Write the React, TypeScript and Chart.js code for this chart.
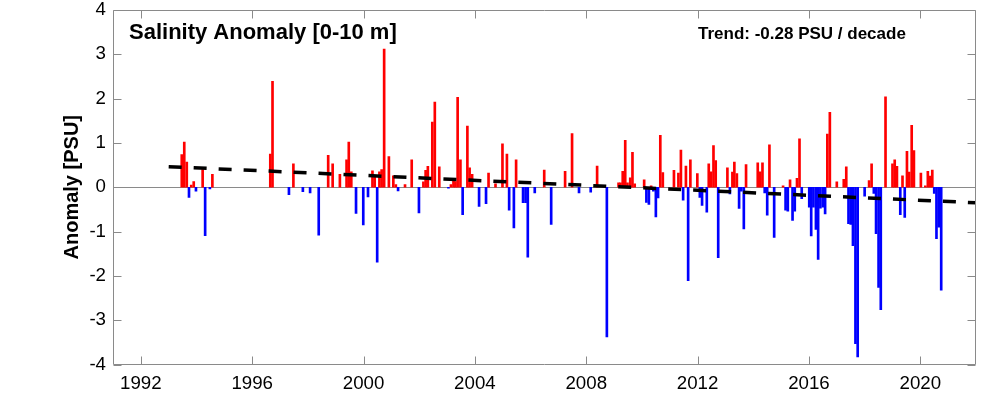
import React, { useEffect, useRef } from "react";
import { Chart, registerables } from "chart.js";

Chart.register(...registerables);

// ---- data (decimal years, PSU) ----
const dates = [
  1993.47, 1993.56, 1993.65, 1993.73, 1993.81, 1993.9, 1993.98, 1994.22, 1994.31, 1994.48, 1994.57,
  1996.65, 1996.73, 1997.32, 1997.48, 1997.82, 1998.08, 1998.39, 1998.73, 1998.89,
  1999.15, 1999.39, 1999.47, 1999.56, 1999.73, 1999.99,
  2000.16, 2000.32, 2000.4, 2000.49, 2000.57, 2000.65, 2000.74, 2000.91,
  2001.07, 2001.16, 2001.24, 2001.49, 2001.73, 2001.99,
  2002.15, 2002.23, 2002.31, 2002.47, 2002.56, 2002.72,
  2003.05, 2003.14, 2003.23, 2003.3, 2003.38, 2003.48, 2003.56, 2003.73, 2003.81, 2003.9,
  2004.15, 2004.4, 2004.49, 2004.74, 2004.99,
  2005.15, 2005.23, 2005.4, 2005.48, 2005.73, 2005.82, 2005.9,
  2006.15, 2006.49, 2006.74, 2007.24, 2007.49, 2007.74,
  2008.16, 2008.39, 2008.74,
  2009.16, 2009.23, 2009.31, 2009.4, 2009.48, 2009.58, 2009.66, 2009.74,
  2010.08, 2010.16, 2010.25, 2010.33, 2010.41, 2010.5, 2010.58, 2010.66, 2010.75,
  2011.15, 2011.31, 2011.4, 2011.48, 2011.58, 2011.66, 2011.74, 2011.99,
  2012.08, 2012.16, 2012.33, 2012.4, 2012.48, 2012.57, 2012.65, 2012.74,
  2013.07, 2013.16, 2013.25, 2013.32, 2013.41, 2013.49, 2013.57, 2013.66, 2013.74,
  2014.16, 2014.25, 2014.33, 2014.41, 2014.5, 2014.58, 2014.75,
  2015.07, 2015.16, 2015.24, 2015.32, 2015.41, 2015.49, 2015.57, 2015.66, 2015.74,
  2016.01, 2016.08, 2016.16, 2016.25, 2016.33, 2016.41, 2016.5, 2016.58, 2016.66, 2016.75,
  2017.0, 2017.25, 2017.34, 2017.42, 2017.5, 2017.58, 2017.67, 2017.75,
  2018.0, 2018.16, 2018.25, 2018.33, 2018.41, 2018.5, 2018.58, 2018.75,
  2019.0, 2019.08, 2019.16, 2019.28, 2019.36, 2019.44, 2019.52, 2019.6, 2019.69, 2019.77,
  2020.02, 2020.18, 2020.27, 2020.35, 2020.43, 2020.5, 2020.58, 2020.66, 2020.75,
];

const anomalies = [
  0.74, 1.02, 0.57, -0.23, 0.05, 0.13, -0.09, 0.4, -1.09, -0.04, 0.29,
  0.75, 2.39, -0.17, 0.53, -0.1, -0.13, -1.08, 0.72, 0.53,
  0.29, 0.62, 1.02, 0.35, -0.59, -0.85,
  -0.22, 0.37, 0.23, -1.69, 0.35, 0.4, 3.12, 0.69,
  0.26, 0.06, -0.08, 0.06, 0.62, -0.58,
  0.12, 0.38, 0.47, 1.47, 1.92, 0.46,
  -0.02, 0.06, 0.17, 0.13, 2.03, 0.62, -0.62, 1.38, 0.44, 0.29,
  -0.43, -0.37, 0.32, 0.08, 0.98,
  0.75, -0.52, -0.92, 0.62, -0.35, -0.35, -1.58,
  -0.13, 0.39, -0.84, 0.36, 1.21, -0.13,
  -0.11, 0.48, -3.38,
  0.1, 0.1, 0.36, 1.06, 0.1, 0.21, 0.79, 0.08,
  0.17, -0.34, -0.39, 0.03, -0.09, -0.67, -0.24, 1.17, 0.33,
  0.38, 0.32, 0.84, -0.29, 0.48, -2.11, 0.62, 0.31,
  -0.23, -0.41, -0.56, 0.53, 0.35, 0.94, 0.6, -1.59,
  0.44, -0.15, 0.34, 0.57, 0.31, -0.48, -0.09, -0.94, 0.51,
  0.55, 0.35, 0.55, -0.13, -0.63, 0.96, -1.13,
  0.03, -0.52, -0.54, 0.17, -0.75, -0.54, 0.2, 1.09, -0.26,
  -0.45, -1.1, -0.45, -0.95, -1.63, -0.47, -0.45, -0.6, 1.2, 1.69,
  0.12, 0.18, 0.46, -0.82, -0.84, -1.32, -3.53, -3.83,
  -0.2, 0.15, 0.53, -0.14, -1.05, -2.26, -2.76, 2.04,
  0.53, 0.62, 0.47, -0.62, 0.26, -0.68, 0.81, 0.34, 1.4, 0.83,
  0.32, 0.03, 0.36, 0.25, 0.39, -0.14, -1.16, -0.9, -2.32,
];

const xTickYears = [1992, 1996, 2000, 2004, 2008, 2012, 2016, 2020];
const yTickValues = [-4, -3, -2, -1, 0, 1, 2, 3, 4];
const trendYears = [1993.0, 2022.0];
const trendValues = [0.465, -0.35];

const titleText = "Salinity Anomaly [0-10 m]";
const trendText = "Trend: -0.28 PSU / decade";
const yAxisTitle = "Anomaly [PSU]";

const FONT = '"Liberation Sans", Arial, Helvetica, sans-serif';
const AXIS_GRAY = "#8a8a8a";
const POS_COLOR = "#ff0000";
const NEG_COLOR = "#0000ff";
const TICK_LEN = 8;

const framePlugin = {
  id: "frame",
  beforeDatasetsDraw(chart: any) {
    const { ctx, chartArea: a, scales } = chart;
    const y0 = Math.round(scales.y.getPixelForValue(0)) + 0.5;
    ctx.save();
    ctx.strokeStyle = AXIS_GRAY;
    ctx.lineWidth = 1;
    ctx.beginPath();
    ctx.moveTo(a.left, y0);
    ctx.lineTo(a.right, y0);
    ctx.stroke();
    ctx.restore();
  },
  afterDatasetsDraw(chart: any) {
    const { ctx, chartArea: a, scales } = chart;
    const L = Math.round(a.left) + 0.5;
    const R = Math.round(a.right) - 0.5;
    const T = Math.round(a.top) + 0.5;
    const B = Math.round(a.bottom) - 0.5;
    ctx.save();
    ctx.strokeStyle = AXIS_GRAY;
    ctx.lineWidth = 1;
    ctx.beginPath();
    ctx.rect(L, T, R - L, B - T);
    for (const yr of xTickYears) {
      const px = Math.round(scales.x.getPixelForValue(yr)) + 0.5;
      ctx.moveTo(px, B);
      ctx.lineTo(px, B - TICK_LEN);
      ctx.moveTo(px, T);
      ctx.lineTo(px, T + TICK_LEN);
    }
    for (const v of yTickValues) {
      const py = Math.round(scales.y.getPixelForValue(v)) + 0.5;
      ctx.moveTo(L, py);
      ctx.lineTo(L + TICK_LEN, py);
      ctx.moveTo(R, py);
      ctx.lineTo(R - TICK_LEN, py);
    }
    ctx.stroke();

    ctx.fillStyle = "#000";
    ctx.textBaseline = "alphabetic";
    ctx.textAlign = "left";
    ctx.font = `bold 22px ${FONT}`;
    ctx.fillText(titleText, a.left + 16, a.top + 29);
    ctx.font = `bold 17px ${FONT}`;
    ctx.fillText(trendText, a.left + 585, a.top + 28.5);
    ctx.restore();
  },
};

export default function App() {
  const canvasRef = useRef<HTMLCanvasElement | null>(null);

  useEffect(() => {
    if (!canvasRef.current) return;
    const chart = new Chart(canvasRef.current, {
      type: "bar",
      data: {
        datasets: [
          {
            type: "line",
            label: "trend",
            data: trendYears.map((x, i) => ({ x, y: trendValues[i] })),
            borderColor: "#000",
            borderWidth: 3.5,
            borderDash: [13, 12],
            borderCapStyle: "butt",
            pointRadius: 0,
            fill: false,
            order: 0,
          } as any,
          {
            type: "bar",
            label: "anomaly",
            data: dates.map((x, i) => ({ x, y: anomalies[i] })),
            backgroundColor: anomalies.map((v) => (v >= 0 ? POS_COLOR : NEG_COLOR)),
            borderWidth: 0,
            barThickness: 2,
            order: 1,
          } as any,
        ],
      },
      options: {
        responsive: false,
        maintainAspectRatio: false,
        animation: false,
        layout: { padding: { top: 10, right: 24, left: 0, bottom: 0 } },
        plugins: {
          legend: { display: false },
          tooltip: { enabled: false },
        },
        scales: {
          x: {
            type: "linear",
            min: 1991,
            max: 2022,
            offset: false,
            grid: { display: false, drawTicks: false, offset: false },
            border: { display: false },
            ticks: {
              autoSkip: false,
              maxRotation: 0,
              padding: 8,
              color: "#000",
              font: { family: FONT, size: 18.7 },
              callback: (v: any) => String(v),
            },
            afterBuildTicks: (s: any) => {
              s.ticks = xTickYears.map((value) => ({ value }));
            },
            afterFit: (s: any) => {
              s.height = 34.5;
              s.paddingLeft = 0;
              s.paddingRight = 0;
            },
          },
          y: {
            type: "linear",
            min: -4,
            max: 4,
            grid: { display: false, drawTicks: false },
            border: { display: false },
            ticks: {
              stepSize: 1,
              padding: 7,
              color: "#000",
              font: { family: FONT, size: 18.7, lineHeight: 1 },
            },
            afterBuildTicks: (s: any) => {
              s.ticks = yTickValues.map((value) => ({ value }));
            },
            title: {
              display: true,
              text: yAxisTitle,
              color: "#000",
              font: { family: FONT, size: 20, weight: "bold" },
              padding: { top: 60, bottom: 0 },
            },
            afterFit: (s: any) => {
              s.width = 113;
              s.paddingTop = 0;
              s.paddingBottom = 0;
            },
          },
        },
      } as any,
      plugins: [framePlugin],
    });
    return () => chart.destroy();
  }, []);

  return (
    <div style={{ position: "fixed", left: 0, top: 0, width: 1000, height: 399, background: "#fff" }}>
      <canvas ref={canvasRef} width={1000} height={399} style={{ display: "block" }} />
    </div>
  );
}
